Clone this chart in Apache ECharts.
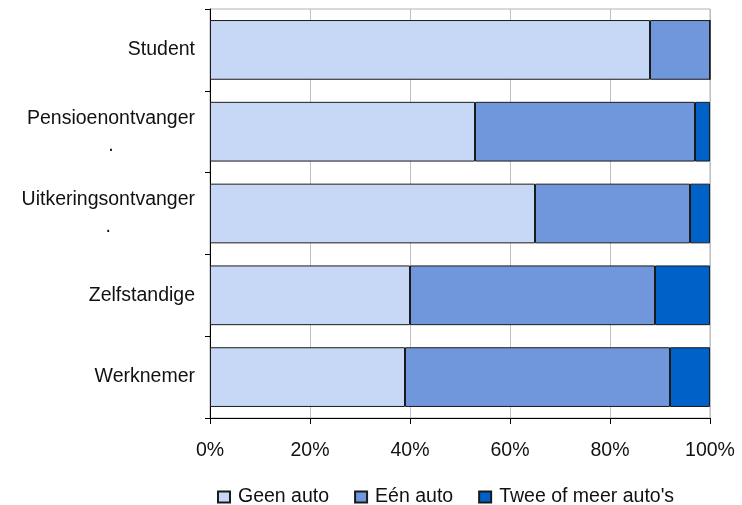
<!DOCTYPE html>
<html>
<head>
<meta charset="utf-8">
<script src="https://cdn.jsdelivr.net/npm/echarts@6/dist/echarts.min.js"></script>
<style>
  html, body { margin: 0; padding: 0; background: #fff; }
  #echarts { width: 742px; height: 505px; }
</style>
</head>
<body>
<div id="echarts"></div>
<script>
// categorieen van boven naar beneden
var categories = ['Student', 'Pensioenontvanger\n.', 'Uitkeringsontvanger\n.', 'Zelfstandige', 'Werknemer'];
var geenAuto = [88, 53, 65, 40, 39];
var eenAuto = [12, 44, 31, 49, 53];
var tweeAuto = [0, 3, 4, 11, 8];
var xTicks = [0, 20, 40, 60, 80, 100];

var color = ['#C6D8F5', '#7097DB', '#0061C8'];
var font = '"Liberation Sans", Arial, sans-serif';
var fs = 19.5;

var myChart = echarts.init(document.getElementById('echarts'));

// breedte van de eerste regel meten, zodat het puntje eronder gecentreerd staat
var ctx = document.createElement('canvas').getContext('2d');
ctx.font = fs + 'px ' + font;
var rich = {};
categories.forEach(function (c, i) {
    var first = c.split('\n')[0];
    rich['d' + i] = {
        width: Math.round(ctx.measureText(first).width),
        align: 'center',
        fontSize: fs, fontFamily: font, color: '#111', lineHeight: 27
    };
    rich['a' + i] = { fontSize: fs, fontFamily: font, color: '#111', lineHeight: 27 };
});

var mkSeries = function (name, data) {
    return {
        name: name,
        type: 'bar',
        stack: 'total',
        barCategoryGap: '27%',
        data: data,
        itemStyle: { borderColor: '#1a1a1a', borderWidth: 1 }
    };
};

var option = {
    animation: false,
    color: color,
    textStyle: { fontFamily: font },
    grid: {
        left: 210, right: 32, top: 9, bottom: 87,
        show: true, borderColor: '#b0b0b0', borderWidth: 1
    },
    legend: {
        top: 482,
        left: 212,
        itemWidth: 12,
        itemHeight: 11,
        itemGap: 25,
        icon: 'rect',
        textStyle: { fontSize: fs, color: '#111', fontFamily: font, padding: [0, 0, 0, 3] },
        data: ['Geen auto', 'Eén auto', 'Twee of meer auto\'s']
    },
    xAxis: {
        type: 'value',
        min: xTicks[0],
        max: xTicks[xTicks.length - 1],
        interval: 20,
        axisLine: { show: true, lineStyle: { color: '#000', width: 1 } },
        axisTick: { show: true, length: 6, lineStyle: { color: '#000' } },
        axisLabel: { formatter: '{value}%', fontSize: fs, color: '#111', margin: 23 },
        splitLine: { show: true, lineStyle: { color: '#c0c0c0', width: 1 } }
    },
    yAxis: {
        type: 'category',
        inverse: true,
        data: categories,
        axisLine: { show: true, lineStyle: { color: '#000', width: 1 } },
        axisTick: { show: true, length: 5, lineStyle: { color: '#000' } },
        axisLabel: {
            fontSize: fs, color: '#111', margin: 15, lineHeight: 27, align: 'right',
            rich: rich,
            formatter: function (v, i) {
                var lines = v.split('\n');
                if (lines.length === 1) return '{a' + i + '|' + v + '}';
                return '{a' + i + '|' + lines[0] + '}\n{d' + i + '|' + lines[1] + '}';
            }
        }
    },
    series: [
        mkSeries('Geen auto', geenAuto),
        mkSeries('Eén auto', eenAuto),
        mkSeries('Twee of meer auto\'s', tweeAuto)
    ]
};
myChart.setOption(option);
</script>
</body>
</html>
